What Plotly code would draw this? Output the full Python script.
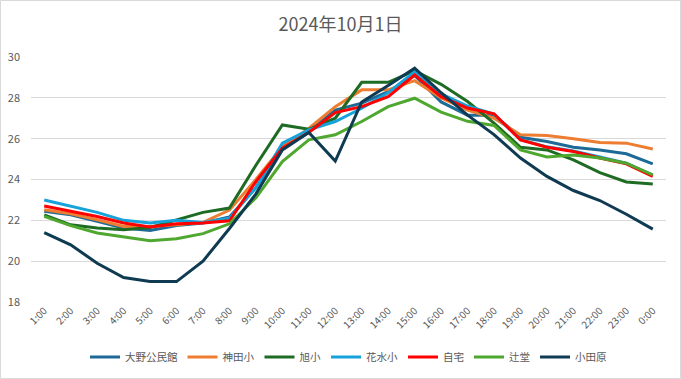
import plotly.graph_objects as go

hours = ["1:00", "2:00", "3:00", "4:00", "5:00", "6:00", "7:00", "8:00", "9:00", "10:00",
         "11:00", "12:00", "13:00", "14:00", "15:00", "16:00", "17:00", "18:00", "19:00",
         "20:00", "21:00", "22:00", "23:00", "0:00"]

ono = [22.45, 22.27, 21.95, 21.62, 21.5, 21.75, 21.87, 22.16, 23.6, 25.65, 26.4, 27.4,
       27.74, 28.3, 29.1, 27.8, 27.15, 27.15, 26.07, 25.86, 25.58, 25.45, 25.26, 24.77]
kanda = [22.52, 22.32, 22.03, 21.7, 21.7, 21.78, 21.9, 22.5, 24.0, 25.6, 26.5, 27.57,
         28.39, 28.39, 28.84, 28.0, 27.4, 27.0, 26.19, 26.15, 26.0, 25.81, 25.78, 25.49]
asahi = [22.27, 21.78, 21.62, 21.54, 21.65, 22.03, 22.39, 22.6, 24.7, 26.67, 26.46, 27.0,
         28.76, 28.76, 29.33, 28.66, 27.82, 26.76, 25.58, 25.45, 24.96, 24.34, 23.88, 23.78]
hanamizu = [23.0, 22.7, 22.39, 22.0, 21.87, 22.0, 21.9, 22.1, 23.6, 25.78, 26.43, 26.84,
            27.49, 28.25, 29.28, 28.2, 27.6, 27.2, 25.95, 25.6, 25.4, 25.1, 24.8, 24.2]
jitaku = [22.7, 22.43, 22.19, 21.87, 21.67, 21.83, 21.87, 21.98, 23.9, 25.54, 26.3, 27.28,
          27.57, 28.06, 29.12, 28.06, 27.5, 27.22, 25.94, 25.58, 25.37, 25.05, 24.77, 24.15]
tsujido = [22.19, 21.74, 21.38, 21.18, 21.0, 21.1, 21.35, 21.83, 23.1, 24.88, 25.94, 26.19,
           26.84, 27.57, 27.98, 27.3, 26.85, 26.65, 25.45, 25.1, 25.2, 25.05, 24.8, 24.23]
odawara = [21.4, 20.8, 19.9, 19.2, 19.0, 19.0, 20.0, 21.6, 23.3, 25.45, 26.3, 24.9,
           27.8, 28.6, 29.45, 28.25, 27.15, 26.2, 25.05, 24.15, 23.46, 22.97, 22.3, 21.57]

series = [
    ("大野公民館", ono, "#1D6A96"),
    ("神田小", kanda, "#ED7D31"),
    ("旭小", asahi, "#1E6B24"),
    ("花水小", hanamizu, "#16A2DA"),
    ("自宅", jitaku, "#FF0000"),
    ("辻堂", tsujido, "#4EA72E"),
    ("小田原", odawara, "#0E3A52"),
]

font_family = "Noto Sans CJK JP, Liberation Sans, Arial, sans-serif"

fig = go.Figure()
for name, vals, color in series:
    fig.add_trace(go.Scatter(
        x=hours, y=vals, name=name, mode="lines",
        line=dict(color=color, width=3),
    ))

W, H = 681, 379
L, R, T, B = 31, 15, 57, 77
pw, ph = W - L - R, H - T - B

fig.update_layout(
    width=W, height=H,
    margin=dict(l=L, r=R, t=T, b=B, pad=0, autoexpand=False),
    paper_bgcolor="white", plot_bgcolor="white",
    font=dict(family=font_family, color="#595959", size=11),
    title=dict(text="2024年10月1日", x=0.5, xanchor="center", xref="container",
               yref="container", y=1 - 25 / H, yanchor="middle",
               font=dict(size=18, color="#595959", family=font_family)),
    showlegend=True,
    legend=dict(orientation="h", x=0.5, xanchor="center", y=(302 - 357) / ph,
                yanchor="middle", font=dict(size=10.5, color="#595959"),
                itemwidth=30, tracegroupgap=0, bgcolor="rgba(0,0,0,0)"),
    xaxis=dict(type="category", tickangle=-45, showgrid=False, zeroline=False,
               showline=False, ticks="", tickfont=dict(size=10, color="#595959"),
               range=[-0.5, 23.5], automargin=False),
    yaxis=dict(range=[18, 30], dtick=2, showgrid=True, gridcolor="#D9D9D9", gridwidth=1,
               zeroline=False, showline=False, ticks="", ticklabelstandoff=10,
               automargin=False, tickfont=dict(size=11, color="#595959")),
    shapes=[dict(type="rect", xref="paper", yref="paper",
                 x0=(0.5 - L) / pw, x1=(W - 0.5 - L) / pw,
                 y0=(H - B - (H - 0.5)) / ph, y1=(H - B - 0.5) / ph,
                 line=dict(color="#D9D9D9", width=1), fillcolor="rgba(0,0,0,0)")],
)

fig.write_html("out.html", config={"displayModeBar": False},
               post_script="document.body.style.margin='0';document.body.style.overflow='hidden';")
